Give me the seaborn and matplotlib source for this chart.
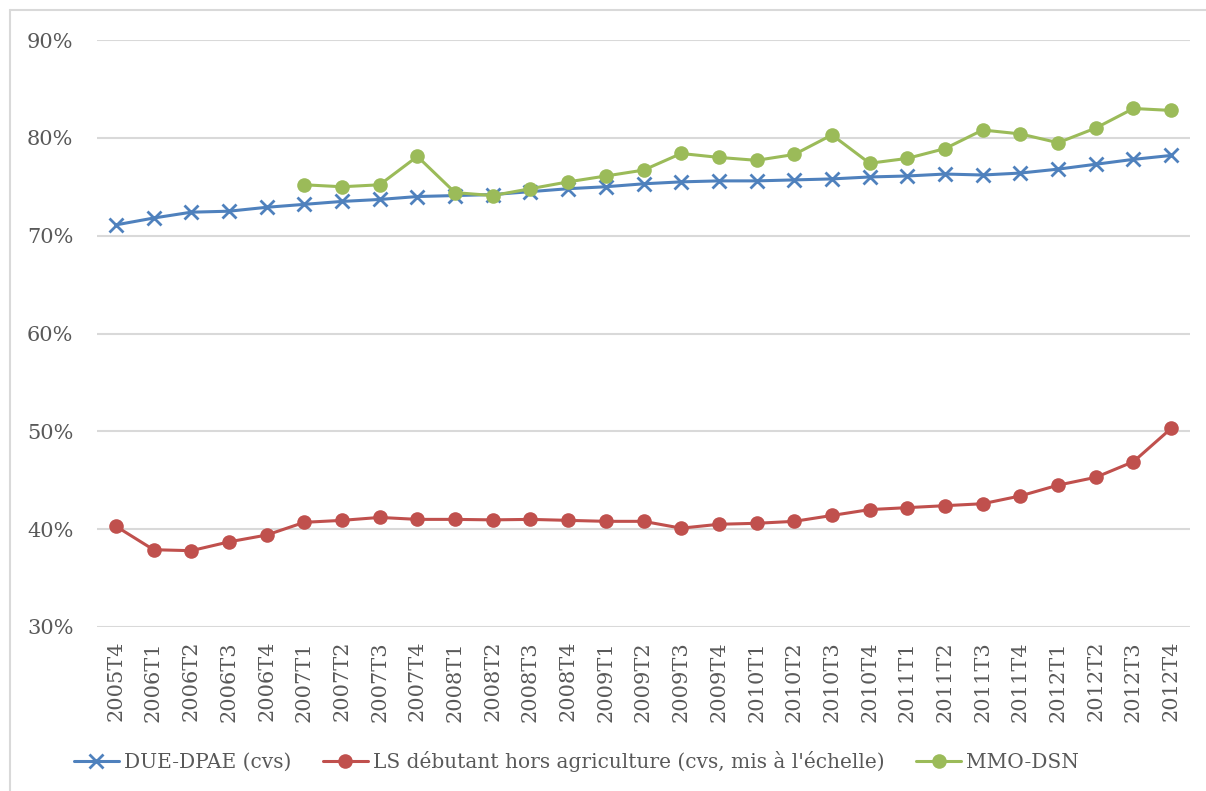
import numpy as np
import pandas as pd
import matplotlib
matplotlib.use("Agg")
import matplotlib.pyplot as plt
from matplotlib.lines import Line2D
from matplotlib.ticker import PercentFormatter
import seaborn as sns

# Quarters on the x axis
quarters = ["2005T4",
            "2006T1", "2006T2", "2006T3", "2006T4",
            "2007T1", "2007T2", "2007T3", "2007T4",
            "2008T1", "2008T2", "2008T3", "2008T4",
            "2009T1", "2009T2", "2009T3", "2009T4",
            "2010T1", "2010T2", "2010T3", "2010T4",
            "2011T1", "2011T2", "2011T3", "2011T4",
            "2012T1", "2012T2", "2012T3", "2012T4"]

# Series values (%)
due_dpae = [71.1, 71.8, 72.4, 72.5, 72.9, 73.2, 73.5, 73.7, 74.0, 74.1,
            74.2, 74.5, 74.8, 75.0, 75.3, 75.5, 75.6, 75.6, 75.7, 75.8,
            76.0, 76.1, 76.3, 76.2, 76.4, 76.8, 77.3, 77.8, 78.2]
ls_debutant = [40.3, 37.9, 37.8, 38.7, 39.4, 40.7, 40.9, 41.2, 41.0, 41.0,
               40.95, 41.0, 40.9, 40.8, 40.8, 40.1, 40.5, 40.6, 40.8, 41.4,
               42.0, 42.2, 42.4, 42.6, 43.4, 44.5, 45.3, 46.9, 50.3]
mmo_dsn = [None, None, None, None, None,
           75.2, 75.0, 75.2, 78.1, 74.4, 74.1, 74.8, 75.5, 76.1, 76.7,
           78.4, 78.0, 77.7, 78.3, 80.3, 77.4, 77.9, 78.9, 80.8, 80.4,
           79.5, 81.0, 83.0, 82.8]

labels = ["DUE-DPAE (cvs)",
          "LS débutant hors agriculture (cvs, mis à l'échelle)",
          "MMO-DSN"]
colors = ["#4F81BD", "#C0504D", "#9BBB59"]

df = pd.DataFrame({"trimestre": quarters,
                   "due": due_dpae,
                   "ls": ls_debutant,
                   "mmo": pd.array(mmo_dsn, dtype="Float64").astype(float)})
df["pos"] = np.arange(len(df))

sns.set_style("white")
plt.rcParams["font.family"] = ["DejaVu Serif"]
text_color = "#595959"

fig = plt.figure(figsize=(12.06, 7.91), dpi=100)
ax = fig.add_axes([97 / 1206, 1 - 627 / 791, (1190 - 97) / 1206, (627 - 40) / 791])

sns.lineplot(data=df, x="pos", y="due", ax=ax, color=colors[0], lw=2.2,
             marker="x", markersize=10, mew=2, mec=colors[0], zorder=3)
sns.lineplot(data=df, x="pos", y="ls", ax=ax, color=colors[1], lw=2.2,
             marker="o", markersize=10.5, mew=0, mec=colors[1], zorder=3)
sns.lineplot(data=df.dropna(subset=["mmo"]), x="pos", y="mmo", ax=ax,
             color=colors[2], lw=2.2, marker="o", markersize=10.5, mew=0,
             mec=colors[2], zorder=4)

ax.set_ylim(30, 90)
ax.set_yticks(np.arange(30, 91, 10))
ax.yaxis.set_major_formatter(PercentFormatter(decimals=0))
ax.set_xlim(-0.5, len(quarters) - 0.5)
ax.set_xticks(df["pos"])
ax.set_xticklabels(quarters, rotation=90)
ax.grid(axis="y", color="#d9d9d9", lw=1.5)
ax.grid(axis="x", visible=False)
for s in ax.spines.values():
    s.set_visible(False)
ax.tick_params(axis="y", length=0, pad=17, labelsize=15, labelcolor=text_color)
ax.tick_params(axis="x", length=0, pad=10, labelsize=15, labelcolor=text_color)
ax.set_xlabel("")
ax.set_ylabel("")

handles = [
    Line2D([], [], color=colors[0], lw=2.2, marker="x", markersize=10, mew=2),
    Line2D([], [], color=colors[1], lw=2.2, marker="o", markersize=10.5, mew=0),
    Line2D([], [], color=colors[2], lw=2.2, marker="o", markersize=10.5, mew=0),
]
leg = fig.legend(handles, labels, loc="center", bbox_to_anchor=(0.478, 0.037),
                 ncol=3, frameon=False, fontsize=14.5, handlelength=2.2,
                 columnspacing=1.6, handletextpad=0.25)
for t in leg.get_texts():
    t.set_color(text_color)

# chart area border (top and left visible in the crop)
fig.add_artist(Line2D([10 / 1206, 1], [1 - 10 / 791, 1 - 10 / 791],
                      color="#d9d9d9", lw=1.5, transform=fig.transFigure))
fig.add_artist(Line2D([10 / 1206, 10 / 1206], [0, 1 - 10 / 791],
                      color="#d9d9d9", lw=1.5, transform=fig.transFigure))

fig.savefig("out.png", dpi=100)
